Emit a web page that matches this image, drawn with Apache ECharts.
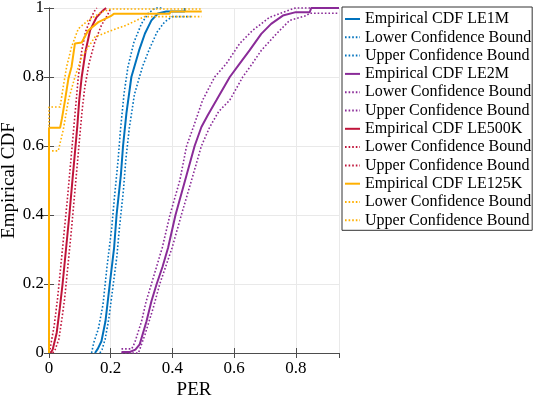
<!DOCTYPE html>
<html>
<head>
<meta charset="utf-8">
<script src="https://cdn.jsdelivr.net/npm/echarts@6/dist/echarts.min.js"></script>
<style>
  html, body { margin: 0; padding: 0; background: #fff; }
  #chart { width: 533px; height: 399px; }
</style>
</head>
<body>
<div id="chart"></div>
<script>
// Empirical CDF curves as [PER, CDF] pairs
const le1m = [[0.149,0],[0.158,0.012],[0.17,0.034],[0.183,0.092],[0.197,0.2],[0.211,0.305],[0.219,0.4],[0.233,0.516],[0.24,0.6],[0.251,0.695],[0.267,0.8],[0.292,0.877],[0.311,0.926],[0.332,0.964],[0.353,0.984],[0.38,0.99],[0.44,0.99],[0.44,1]];
const le1mLower = [[0.165,0],[0.172,0.01],[0.182,0.04],[0.194,0.1],[0.207,0.19],[0.22,0.28],[0.228,0.36],[0.241,0.47],[0.249,0.56],[0.26,0.65],[0.277,0.75],[0.303,0.83],[0.325,0.88],[0.35,0.93],[0.375,0.96],[0.4,0.975],[0.46,0.975]];
const le1mUpper = [[0.138,0],[0.145,0.03],[0.16,0.07],[0.175,0.14],[0.188,0.25],[0.203,0.36],[0.212,0.45],[0.224,0.56],[0.232,0.65],[0.243,0.75],[0.256,0.83],[0.275,0.9],[0.3,0.955],[0.322,0.985],[0.345,1],[0.37,1]];

const le2m = [[0.235,0.003],[0.262,0.003],[0.28,0.01],[0.294,0.025],[0.316,0.092],[0.332,0.15],[0.349,0.2],[0.368,0.25],[0.386,0.305],[0.41,0.4],[0.446,0.516],[0.472,0.6],[0.494,0.655],[0.515,0.69],[0.543,0.733],[0.586,0.8],[0.618,0.839],[0.65,0.877],[0.688,0.925],[0.72,0.954],[0.758,0.978],[0.8,0.988],[0.845,0.988],[0.85,1],[0.94,1]];
const le2mLower = [[0.235,0],[0.29,0],[0.311,0.053],[0.338,0.131],[0.359,0.2],[0.399,0.305],[0.429,0.4],[0.467,0.516],[0.494,0.6],[0.521,0.655],[0.55,0.7],[0.586,0.733],[0.628,0.8],[0.66,0.84],[0.688,0.877],[0.737,0.925],[0.78,0.964],[0.834,0.978],[0.845,0.985],[0.94,0.985]];
const le2mUpper = [[0.235,0.012],[0.268,0.012],[0.278,0.03],[0.3,0.092],[0.315,0.15],[0.332,0.2],[0.367,0.305],[0.392,0.4],[0.424,0.5],[0.446,0.6],[0.47,0.66],[0.498,0.733],[0.537,0.8],[0.575,0.839],[0.618,0.897],[0.66,0.935],[0.715,0.973],[0.79,0.998],[0.8,1],[0.94,1]];

const le500k = [[0.005,0],[0.012,0.01],[0.025,0.059],[0.035,0.13],[0.044,0.2],[0.055,0.3],[0.066,0.4],[0.076,0.501],[0.086,0.6],[0.092,0.66],[0.098,0.733],[0.106,0.8],[0.119,0.877],[0.133,0.935],[0.154,0.973],[0.175,0.993],[0.185,1]];
const le500kLower = [[0.012,0],[0.02,0.01],[0.032,0.04],[0.042,0.1],[0.051,0.16],[0.061,0.25],[0.072,0.35],[0.082,0.45],[0.092,0.55],[0.1,0.63],[0.107,0.7],[0.116,0.77],[0.13,0.84],[0.148,0.9],[0.17,0.95],[0.19,0.98],[0.2,1]];
const le500kUpper = [[0.002,0],[0.005,0.02],[0.017,0.08],[0.028,0.16],[0.038,0.25],[0.049,0.35],[0.06,0.45],[0.07,0.55],[0.08,0.65],[0.088,0.73],[0.095,0.8],[0.105,0.87],[0.118,0.93],[0.135,0.97],[0.15,0.995],[0.155,1]];

const le125k = [[0,0],[0,0.653],[0.036,0.653],[0.042,0.68],[0.052,0.733],[0.063,0.796],[0.073,0.829],[0.084,0.897],[0.106,0.9],[0.127,0.935],[0.16,0.959],[0.203,0.978],[0.21,0.983],[0.39,0.983],[0.395,0.99],[0.495,0.99]];
const le125kLower = [[0,0],[0,0.586],[0.03,0.586],[0.046,0.646],[0.063,0.733],[0.084,0.8],[0.106,0.858],[0.149,0.916],[0.203,0.935],[0.25,0.95],[0.31,0.975],[0.495,0.975]];
const le125kUpper = [[0,0],[0,0.713],[0.036,0.713],[0.046,0.771],[0.057,0.829],[0.073,0.887],[0.095,0.94],[0.127,0.964],[0.17,0.988],[0.2,0.997],[0.495,0.997]];

// axis ticks
const xTicks = [0, 0.2, 0.4, 0.6, 0.8];
const yTicks = [0, 0.2, 0.4, 0.6, 0.8, 1];

const FONT = 'Liberation Serif';
const AXIS_COLOR = '#4d4d4d';

// one group per data set: solid CDF plus two dotted bounds
const groups = [
  { tag: 'LE1M', color: '#0072BD', cdf: le1m, lower: le1mLower, upper: le1mUpper },
  { tag: 'LE2M', color: '#8A2B98', cdf: le2m, lower: le2mLower, upper: le2mUpper },
  { tag: 'LE500K', color: '#C0143A', cdf: le500k, lower: le500kLower, upper: le500kUpper },
  { tag: 'LE125K', color: '#FFB000', cdf: le125k, lower: le125kLower, upper: le125kUpper },
];

const series = [];
groups.forEach(({ tag, color, cdf, lower, upper }) => {
  const base = { type: 'line', symbol: 'none', clip: false, silent: true };
  series.push({ ...base, name: 'Empirical CDF ' + tag, data: cdf,
    itemStyle: { color }, lineStyle: { color, width: 2 } });
  // names carry a hidden suffix so the legend keeps each colour apart
  series.push({ ...base, name: 'Lower Confidence Bound|' + tag, data: lower,
    itemStyle: { color }, lineStyle: { color, width: 1.6, type: [1.6, 2] } });
  series.push({ ...base, name: 'Upper Confidence Bound|' + tag, data: upper,
    itemStyle: { color }, lineStyle: { color, width: 1.6, type: [1.6, 2] } });
});

const chart = echarts.init(document.getElementById('chart'));
const boxAxis = {
  axisLine: { show: true, lineStyle: { color: AXIS_COLOR, width: 1 } },
  axisTick: { show: true, inside: true, length: 5, lineStyle: { color: AXIS_COLOR } },
  axisLabel: { show: false },
  splitLine: { show: false },
};

chart.setOption({
  animation: false,
  grid: { left: 49, right: 194, top: 8, bottom: 46, containLabel: false, outerBoundsMode: 'none' },
  legend: {
    orient: 'vertical',
    left: 342,
    top: 7,
    padding: [4, 1, 2, 2],
    itemWidth: 15,
    itemHeight: 14,
    itemGap: 2.3,
    backgroundColor: '#fff',
    borderColor: '#333',
    borderWidth: 1,
    borderRadius: 0,
    selectedMode: false,
    // hide the marker circle, keep only the line sample
    itemStyle: { color: 'rgba(0,0,0,0)', borderWidth: 0, opacity: 0 },
    data: series.map(s => s.name),
    formatter: name => name.split('|')[0],
    textStyle: { fontFamily: FONT, fontSize: 16, color: '#000' },
  },
  xAxis: [
    {
      type: 'value', min: 0, max: 0.94, interval: 0.2,
      name: 'PER', nameLocation: 'middle', nameGap: 28, nameMoveOverlap: false,
      nameTextStyle: { fontFamily: FONT, fontSize: 19, color: '#000' },
      axisLine: { show: true, lineStyle: { color: AXIS_COLOR, width: 1 } },
      axisTick: { show: true, inside: true, length: 5, lineStyle: { color: AXIS_COLOR } },
      axisLabel: {
        fontFamily: FONT, fontSize: 17, color: '#000', margin: 7, showMaxLabel: false,
        formatter: v => (xTicks.includes(+v.toFixed(2)) ? String(+v.toFixed(2)) : ''),
      },
      splitLine: { show: true, lineStyle: { color: '#e9e9e9', width: 1 } },
    },
    { ...boxAxis, type: 'value', position: 'top', min: 0, max: 0.94, interval: 0.2 },
  ],
  yAxis: [
    {
      type: 'value', min: 0, max: 1, interval: 0.2,
      name: 'Empirical CDF', nameLocation: 'middle', nameGap: 30, nameMoveOverlap: false,
      nameTextStyle: { fontFamily: FONT, fontSize: 19, color: '#000' },
      axisLine: { show: true, lineStyle: { color: AXIS_COLOR, width: 1 } },
      axisTick: { show: true, inside: true, length: 5, lineStyle: { color: AXIS_COLOR } },
      axisLabel: {
        fontFamily: FONT, fontSize: 17, color: '#000', margin: 5,
        formatter: v => (yTicks.includes(+v.toFixed(2)) ? String(+v.toFixed(2)) : ''),
      },
      splitLine: { show: true, lineStyle: { color: '#e9e9e9', width: 1 } },
    },
    { ...boxAxis, type: 'value', position: 'right', min: 0, max: 1, interval: 0.2 },
  ],
  series,
});
</script>
</body>
</html>
